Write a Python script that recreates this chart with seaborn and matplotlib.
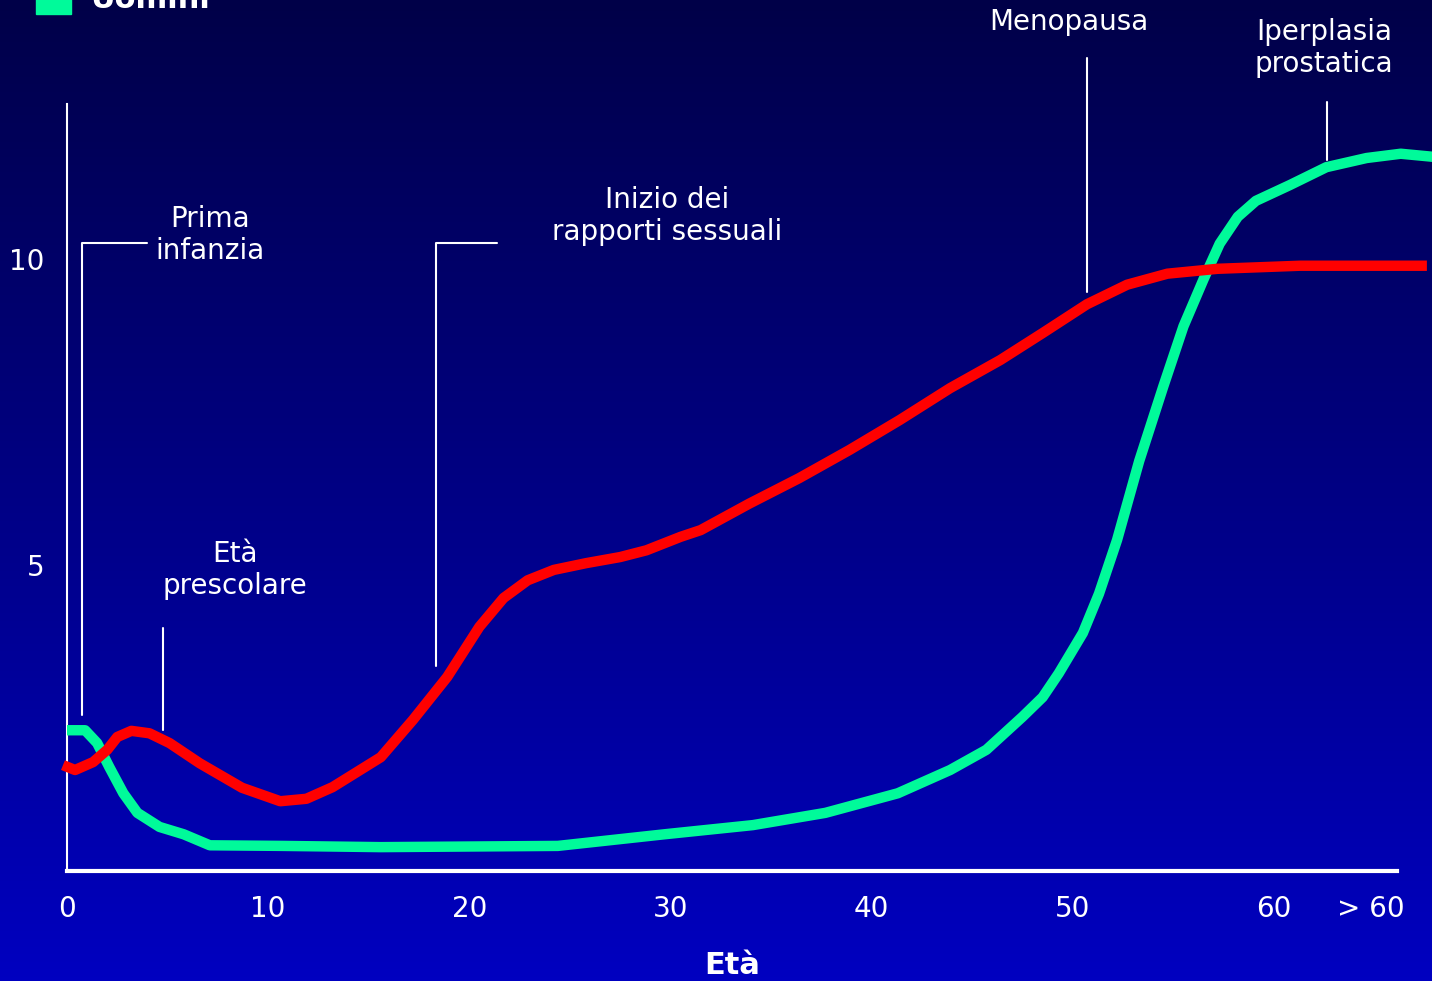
"""
Curve di incidenza per eta (Uomini): ricostruzione del grafico con seaborn.
"""

import matplotlib

matplotlib.use("Agg")
import matplotlib.pyplot as plt
import numpy as np
import pandas as pd
import seaborn as sns
from matplotlib.patches import Rectangle

# ==============================================================================
# DATA
# ==============================================================================
RED_AGE = [-0.2, 0.4, 1.3, 2.0, 2.5, 3.2, 4.1, 5.1, 6.6, 8.7, 10.6, 11.9,
           13.2, 15.6, 17.2, 18.9, 20.5, 21.7, 22.9, 24.2, 25.8, 27.5, 28.8,
           30.5, 31.5, 33.9, 36.4, 38.9, 41.4, 43.9, 46.4, 48.5, 50.7, 52.7,
           54.7, 57.2, 61.3, 67.6]
RED_VAL = [1.73, 1.65, 1.78, 1.98, 2.19, 2.29, 2.25, 2.09, 1.76, 1.36, 1.14,
           1.18, 1.37, 1.86, 2.47, 3.17, 3.99, 4.46, 4.75, 4.92, 5.03, 5.13,
           5.24, 5.46, 5.57, 6.00, 6.42, 6.88, 7.37, 7.89, 8.35, 8.79, 9.26,
           9.58, 9.76, 9.84, 9.89, 9.89]

GREEN_AGE = [0.0, 0.9, 1.5, 2.1, 2.8, 3.5, 4.6, 5.8, 7.1, 10.7, 15.6, 24.4,
             29.7, 34.1, 37.7, 41.3, 43.9, 45.7, 47.5, 48.5, 49.3, 50.5, 51.3,
             52.2, 53.3, 54.5, 55.5, 56.5, 57.3, 58.2, 59.1, 60.8, 62.6, 64.6,
             66.3, 67.9]
GREEN_VAL = [2.30, 2.30, 2.09, 1.70, 1.27, 0.95, 0.72, 0.60, 0.42, 0.41, 0.39,
             0.41, 0.60, 0.75, 0.95, 1.27, 1.65, 1.98, 2.52, 2.84, 3.23, 3.89,
             4.53, 5.41, 6.70, 7.92, 8.90, 9.67, 10.25, 10.69, 10.95, 11.21,
             11.50, 11.65, 11.72, 11.67]

TICK_POS = [0, 10, 20, 30, 40, 50, 60, 64.8]
TICK_LABELS = ["0", "10", "20", "30", "40", "50", "60", "> 60"]
YTICK_POS = [5, 10]
YTICK_LABELS = ["5", "10"]

RED = "#ff0000"
GREEN = "#00fa9a"
TOP_BLUE = np.array([0, 0, 72]) / 255
BOTTOM_BLUE = np.array([0, 0, 192]) / 255

# data limits matching the 1432x981 canvas (axes fill the figure)
PX_PER_YEAR = 1207 / 60
PX_PER_UNIT = 61.2
X0_PX, Y0_PX = 67, 871
XLIM = (-X0_PX / PX_PER_YEAR, (1432 - X0_PX) / PX_PER_YEAR)
YLIM = ((Y0_PX - 981) / PX_PER_UNIT, Y0_PX / PX_PER_UNIT)


def px(x, y):
    """Pixel position of the reference -> data coordinates."""
    return (x - X0_PX) / PX_PER_YEAR, (Y0_PX - y) / PX_PER_UNIT


def main():
    sns.set_style("white")
    plt.rcParams["font.family"] = ["DejaVu Sans"]

    fig = plt.figure(figsize=(14.32, 9.81), dpi=100)
    ax = fig.add_axes([0, 0, 1, 1])

    # vertical gradient background
    grad = np.linspace(0, 1, 256)[:, None, None]
    img = TOP_BLUE + (BOTTOM_BLUE - TOP_BLUE) * grad
    img = np.repeat(img, 2, axis=1)
    ax.imshow(img, extent=(XLIM[0], XLIM[1], YLIM[0], YLIM[1]),
              origin="upper", aspect="auto", zorder=0)

    green = pd.DataFrame({"age": GREEN_AGE, "val": GREEN_VAL})
    red = pd.DataFrame({"age": RED_AGE, "val": RED_VAL})
    sns.lineplot(data=green, x="age", y="val", color=GREEN, lw=7.5,
                 sort=False, ax=ax, zorder=3,
                 solid_joinstyle="round", solid_capstyle="butt")
    sns.lineplot(data=red, x="age", y="val", color=RED, lw=7.5,
                 sort=False, ax=ax, zorder=4,
                 solid_joinstyle="round", solid_capstyle="butt")

    ax.set_xlim(*XLIM)
    ax.set_ylim(*YLIM)

    # axes drawn as white spines crossing at the origin
    for side in ("top", "right"):
        ax.spines[side].set_visible(False)
    ax.spines["left"].set_position(("data", 0))
    ax.spines["bottom"].set_position(("data", 0))
    ax.spines["left"].set_bounds(0, px(0, 104)[1])
    ax.spines["bottom"].set_bounds(0, px(1397, 0)[0])
    ax.spines["left"].set_color("white")
    ax.spines["bottom"].set_color("white")
    ax.spines["left"].set_linewidth(1.5)
    ax.spines["bottom"].set_linewidth(3)
    ax.spines["left"].set_zorder(2)
    ax.spines["bottom"].set_zorder(2)

    ax.set_xticks(TICK_POS, TICK_LABELS)
    ax.set_yticks(YTICK_POS, YTICK_LABELS)
    ax.tick_params(axis="x", length=0, pad=17, labelsize=20, colors="white")
    ax.tick_params(axis="y", length=0, pad=16, labelsize=20, colors="white")
    ax.set_xlabel("")
    ax.set_ylabel("")
    ax.grid(False)

    # annotation leaders
    lk = dict(color="white", lw=1.5, zorder=2)
    ax.plot(*zip(px(147, 243), px(82, 243), px(82, 715)), **lk)
    ax.plot(*zip(px(163, 628), px(163, 730)), **lk)
    ax.plot(*zip(px(497, 243), px(436, 243), px(436, 666)), **lk)
    ax.plot(*zip(px(1087, 58), px(1087, 292)), **lk)
    ax.plot(*zip(px(1327, 102), px(1327, 160)), **lk)

    tk = dict(color="white", fontsize=20, ha="center", va="center",
              linespacing=1.2, zorder=5)
    ax.text(*px(210, 235), "Prima\ninfanzia", **tk)
    ax.text(*px(235, 570), "Età\nprescolare", **tk)
    ax.text(*px(667, 216), "Inizio dei\nrapporti sessuali", **tk)
    ax.text(*px(1069, 22), "Menopausa", **tk)
    ax.text(*px(1324, 48), "Iperplasia\nprostatica", **tk)
    ax.text(*px(732, 965), "Età", color="white", fontsize=22,
            fontweight="bold", ha="center", va="center")

    # legend fragment at top (cut by the canvas edge, as in the reference)
    fig.patches.append(Rectangle((36 / 1432, 1 - 14 / 981), 35 / 1432,
                                 40 / 981, transform=fig.transFigure,
                                 color=GREEN, zorder=5))
    fig.text(90 / 1432, 1 - 8 / 981, "Uomini", color="white", fontsize=22,
             fontweight="bold", ha="left", va="baseline")

    fig.savefig("out.png", dpi=100)
    plt.close(fig)


if __name__ == "__main__":
    main()
